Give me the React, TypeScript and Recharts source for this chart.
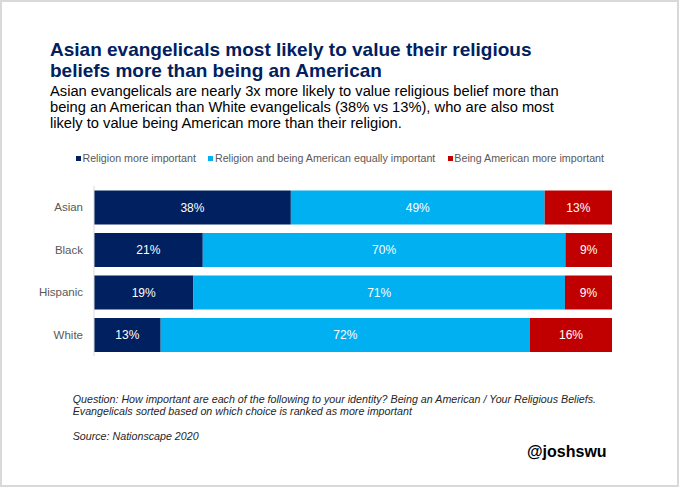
import React from 'react';
import { BarChart, Bar, XAxis, YAxis, Legend, LabelList } from 'recharts';

const groups = ['Asian', 'Black', 'Hispanic', 'White'];
const religionMore = [38, 21, 19, 13];
const equallyImportant = [49, 70, 71, 72];
const americanMore = [13, 9, 9, 16];

const seriesNames = [
  'Religion more important',
  'Religion and being American equally important',
  'Being American more important',
];
const seriesColors = ['#002060', '#00B0F0', '#C00000'];
const seriesKeys = ['rel', 'eq', 'am'];

const data = groups.map((g, i) => ({
  name: g,
  rel: religionMore[i],
  eq: equallyImportant[i],
  am: americanMore[i],
}));

const FONT = '"Liberation Sans", Arial, Helvetica, sans-serif';

const LegendContent = () => (
  <div
    style={{
      display: 'flex',
      justifyContent: 'center',
      alignItems: 'center',
      fontFamily: FONT,
      fontSize: 10.7,
      lineHeight: '13px',
      height: 13,
      color: '#595959',
      whiteSpace: 'nowrap',
    }}
  >
    {seriesNames.map((n, i) => (
      <div key={n} style={{ display: 'flex', alignItems: 'center', marginRight: i < 2 ? 12.5 : 0 }}>
        <span style={{ display: 'inline-block', width: 5, height: 5, background: seriesColors[i], marginRight: 1.5 }} />
        <span>{n}</span>
      </div>
    ))}
  </div>
);

export default function App() {
  return (
    <div
      style={{
        position: 'absolute',
        left: 0,
        top: 0,
        width: 680,
        height: 487,
        background: '#ffffff',
        fontFamily: FONT,
        overflow: 'hidden',
      }}
    >
      <div
        style={{
          position: 'absolute',
          left: 0,
          top: 0,
          width: 679,
          height: 487,
          boxSizing: 'border-box',
          border: '2px solid #d9d9d9',
        }}
      />
      <div
        style={{
          position: 'absolute',
          left: 50,
          top: 39,
          fontSize: 19,
          lineHeight: '21px',
          fontWeight: 'bold',
          color: '#002060',
          whiteSpace: 'nowrap',
        }}
      >
        <div>Asian evangelicals most likely to value their religious</div>
        <div>beliefs more than being an American</div>
      </div>
      <div
        style={{
          position: 'absolute',
          left: 50,
          top: 82.8,
          fontSize: 14.7,
          lineHeight: '16.35px',
          color: '#000000',
          whiteSpace: 'nowrap',
        }}
      >
        <div>Asian evangelicals are nearly 3x more likely to value religious belief more than</div>
        <div>being an American than White evangelicals (38% vs 13%), who are also most</div>
        <div>likely to value being American more than their religion.</div>
      </div>

      <div style={{ position: 'absolute', left: 0, top: 140 }}>
        <BarChart
          width={680}
          height={230}
          data={data}
          layout="vertical"
          stackOffset="expand"
          barCategoryGap={4.5}
          margin={{ top: 33, right: 68, bottom: 14, left: 0 }}
        >
          <XAxis type="number" hide domain={[0, 1]} />
          <YAxis
            type="category"
            dataKey="name"
            width={94}
            axisLine={{ stroke: '#d9d9d9' }}
            tickLine={false}
            tickMargin={5}
            tick={{ fill: '#595959', fontSize: 11.5, fontFamily: FONT }}
          />
          <Legend
            verticalAlign="top"
            height={13}
            content={<LegendContent />}
            wrapperStyle={{ top: 12, left: 0, width: 680 }}
          />
          {seriesKeys.map((k, i) => (
            <Bar
              key={k}
              dataKey={k}
              name={seriesNames[i]}
              stackId="a"
              fill={seriesColors[i]}
              isAnimationActive={false}
            >
              <LabelList
                dataKey={k}
                position="center"
                fill="#ffffff"
                fontSize={12}
                fontFamily={FONT}
                formatter={(v: any) => `${v}%`}
              />
            </Bar>
          ))}
        </BarChart>
      </div>

      <div
        style={{
          position: 'absolute',
          left: 72.7,
          top: 393,
          fontSize: 10.7,
          lineHeight: '12px',
          fontStyle: 'italic',
          color: '#262626',
          whiteSpace: 'nowrap',
        }}
      >
        <div>Question: How important are each of the following to your identity? Being an American / Your Religious Beliefs.</div>
        <div>Evangelicals sorted based on which choice is ranked as more important</div>
      </div>
      <div
        style={{
          position: 'absolute',
          left: 72.7,
          top: 430.3,
          fontSize: 10.7,
          lineHeight: '12px',
          fontStyle: 'italic',
          color: '#262626',
          whiteSpace: 'nowrap',
        }}
      >
        Source: Nationscape 2020
      </div>
      <div
        style={{
          position: 'absolute',
          left: 527,
          top: 442.5,
          fontSize: 16,
          fontWeight: 'bold',
          color: '#000000',
          whiteSpace: 'nowrap',
        }}
      >
        @joshswu
      </div>
    </div>
  );
}
